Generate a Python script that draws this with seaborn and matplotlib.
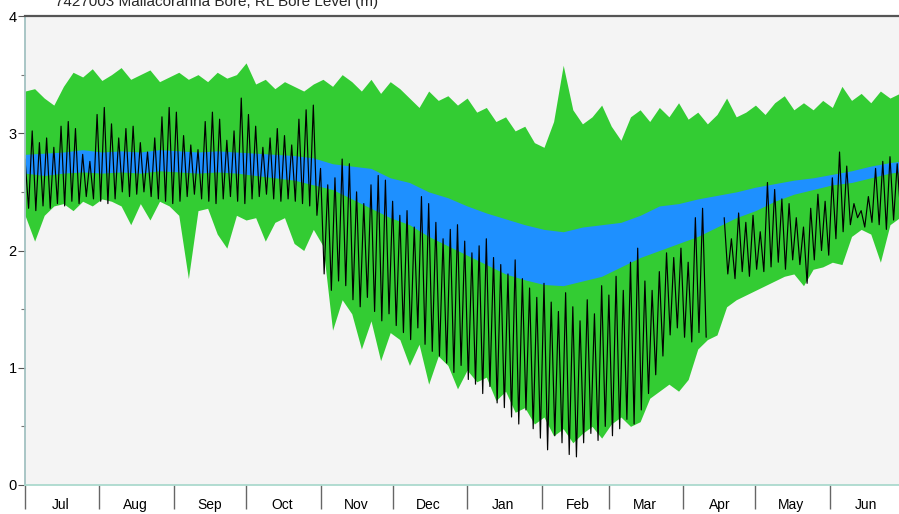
import numpy as np
import pandas as pd
import seaborn as sns
import matplotlib.pyplot as plt
import matplotlib.dates as mdates
from matplotlib.ticker import MultipleLocator, NullFormatter

title = "7427003 Mallacoranna Bore, RL Bore Level (m)"
start = "2018-07-01"

# outer envelope (green), one value every 4 days
green_hi = [3.36, 3.38, 3.30, 3.24, 3.40, 3.52, 3.48, 3.55, 3.45, 3.50, 3.56, 3.46,
            3.50, 3.54, 3.44, 3.48, 3.52, 3.46, 3.50, 3.44, 3.52, 3.47, 3.50, 3.60,
            3.42, 3.46, 3.38, 3.44, 3.40, 3.36, 3.42, 3.46, 3.40, 3.50, 3.44, 3.36,
            3.46, 3.34, 3.44, 3.38, 3.30, 3.22, 3.36, 3.28, 3.32, 3.24, 3.30, 3.18,
            3.22, 3.10, 3.14, 3.02, 3.06, 2.92, 2.88, 3.10, 3.58, 3.20, 3.08, 3.14,
            3.24, 3.06, 2.94, 3.14, 3.20, 3.10, 3.22, 3.14, 3.26, 3.12, 3.18, 3.08,
            3.16, 3.30, 3.14, 3.18, 3.24, 3.16, 3.26, 3.32, 3.20, 3.26, 3.20, 3.28,
            3.22, 3.40, 3.28, 3.34, 3.26, 3.36, 3.30, 3.34]
green_lo = [2.30, 2.08, 2.30, 2.38, 2.40, 2.34, 2.42, 2.38, 2.44, 2.42, 2.38, 2.22,
            2.40, 2.26, 2.42, 2.38, 2.30, 1.76, 2.34, 2.36, 2.14, 2.02, 2.30, 2.26,
            2.28, 2.08, 2.24, 2.28, 2.06, 2.00, 2.18, 2.04, 1.32, 1.58, 1.46, 1.16,
            1.40, 1.06, 1.30, 1.24, 1.02, 1.20, 0.86, 1.10, 1.02, 0.82, 0.98, 0.88,
            0.92, 0.72, 0.80, 0.62, 0.66, 0.52, 0.58, 0.42, 0.48, 0.36, 0.44, 0.50,
            0.40, 0.52, 0.58, 0.50, 0.54, 0.74, 0.80, 0.86, 0.80, 0.90, 1.16, 1.24,
            1.28, 1.52, 1.58, 1.62, 1.66, 1.70, 1.74, 1.78, 1.80, 1.70, 1.84, 1.86,
            1.90, 1.88, 2.12, 2.18, 2.14, 1.90, 2.22, 2.28]

# inner band (blue), one value every 8 days
blue_hi = [2.82, 2.83, 2.84, 2.86, 2.84, 2.85, 2.84, 2.86, 2.85, 2.84, 2.85, 2.84,
           2.83, 2.82, 2.81, 2.79, 2.74, 2.72, 2.70, 2.62, 2.58, 2.50, 2.45, 2.38,
           2.32, 2.27, 2.22, 2.18, 2.16, 2.20, 2.22, 2.24, 2.30, 2.38, 2.40, 2.44,
           2.47, 2.50, 2.54, 2.57, 2.60, 2.62, 2.65, 2.68, 2.72, 2.75, 2.77]
blue_lo = [2.66, 2.64, 2.66, 2.67, 2.66, 2.67, 2.66, 2.68, 2.67, 2.66, 2.67, 2.66,
           2.64, 2.62, 2.60, 2.56, 2.52, 2.44, 2.36, 2.28, 2.22, 2.12, 2.04, 1.96,
           1.88, 1.80, 1.75, 1.71, 1.70, 1.74, 1.78, 1.86, 1.94, 2.00, 2.06, 2.12,
           2.20, 2.28, 2.34, 2.42, 2.48, 2.52, 2.56, 2.58, 2.62, 2.66, 2.68]

# observed level: daily highs and lows, one pair every 3 days (nan = no record)
obs_peak = [2.78, 3.02, 2.92, 2.96, 2.88, 3.06, 3.10, 3.04, 2.82, 2.76, 3.16, 3.22,
            3.08, 2.96, 3.04, 3.06, 2.92, 2.84, 2.96, 3.14, 3.22, 3.18, 2.98, 2.90,
            2.86, 3.10, 3.18, 3.12, 2.94, 3.02, 3.30, 3.16, 3.06, 2.88, 2.96, 3.04,
            2.98, 2.90, 3.12, 3.20, 3.24, 2.70, 2.56, 2.62, 2.78, 2.74, 2.50, 2.40,
            2.56, 2.64, 2.60, 2.42, 2.30, 2.34, 2.20, 2.46, 2.40, 2.24, 2.10, 2.18,
            2.22, 2.08, 1.98, 2.04, 2.10, 1.94, 1.88, 1.80, 1.92, 1.76, 1.68, 1.60,
            1.72, 1.56, 1.48, 1.64, 1.52, 1.40, 1.58, 1.46, 1.70, 1.62, 1.78, 1.66,
            1.90, 2.02, 1.74, 1.66, 1.82, 1.98, 1.94, 2.02, 1.90, 2.28, 2.36, np.nan,
            np.nan, 2.28, 2.10, 2.32, 2.24, 2.30, 2.16, 2.58, 2.52, 2.44, 2.40, 2.28,
            2.20, 2.36, 2.48, 2.42, 2.62, 2.84, 2.72, 2.40, 2.34, 2.46, 2.70, 2.76,
            2.80, 2.74]
obs_trough = [2.36, 2.34, 2.38, 2.36, 2.40, 2.38, 2.42, 2.40, 2.46, 2.44, 2.42, 2.40,
              2.44, 2.50, 2.46, 2.48, 2.50, 2.46, 2.44, 2.42, 2.40, 2.42, 2.46, 2.48,
              2.44, 2.42, 2.40, 2.44, 2.46, 2.42, 2.40, 2.44, 2.46, 2.48, 2.44, 2.42,
              2.44, 2.42, 2.40, 2.38, 2.30, 1.80, 1.66, 1.74, 1.70, 1.58, 1.52, 1.60,
              1.48, 1.40, 1.46, 1.36, 1.30, 1.24, 1.34, 1.20, 1.14, 1.10, 1.04, 0.96,
              1.02, 0.90, 0.86, 0.78, 0.84, 0.70, 0.66, 0.58, 0.52, 0.64, 0.48, 0.40,
              0.30, 0.42, 0.36, 0.26, 0.24, 0.36, 0.44, 0.38, 0.50, 0.42, 0.48, 0.56,
              0.52, 0.64, 0.78, 0.94, 1.10, 1.28, 1.34, 1.26, 1.22, 1.30, 1.26, np.nan,
              np.nan, 1.80, 1.76, 1.82, 1.78, 1.84, 1.82, 1.86, 1.90, 1.84, 1.92, 1.88,
              1.72, 1.92, 2.00, 1.96, 2.10, 2.16, 2.22, 2.28, 2.20, 2.24, 2.22, 2.18,
              2.26, 2.30]

month_labels = ["Jul", "Aug", "Sep", "Oct", "Nov", "Dec",
                "Jan", "Feb", "Mar", "Apr", "May", "Jun"]

band4 = pd.date_range(start, periods=len(green_hi), freq="4D")
band8 = pd.date_range(start, periods=len(blue_hi), freq="8D")
peak_t = pd.date_range(start, periods=len(obs_peak), freq="3D")

obs = pd.DataFrame({
    "date": np.concatenate([peak_t.values, (peak_t + pd.Timedelta(hours=36)).values]),
    "level": obs_peak + obs_trough,
}).sort_values("date", kind="stable").reset_index(drop=True)
obs["segment"] = obs["level"].isna().cumsum()
obs = obs.dropna()

sns.set_theme(style="white")
plt.rcParams["font.family"] = ["Liberation Sans", "DejaVu Sans"]

fig = plt.figure(figsize=(8.99, 5.14), dpi=100)
ax = fig.add_axes([25 / 899, 29 / 514, 877 / 899, 469 / 514])
ax.set_facecolor("#f4f4f4")

ax.fill_between(band4, green_lo, green_hi, color="#33cc33", lw=0)
ax.fill_between(band8, blue_lo, blue_hi, color="#1e90ff", lw=0)
sns.lineplot(data=obs, x="date", y="level", units="segment", estimator=None,
             sort=False, color="black", lw=0.85, ax=ax)

ax.set(xlabel="", ylabel="")
ax.set_ylim(0, 4)
ax.set_xlim(pd.Timestamp("2018-07-01"), pd.Timestamp("2019-07-01"))

ax.yaxis.set_major_locator(MultipleLocator(1))
ax.yaxis.set_minor_locator(MultipleLocator(0.5))
ax.tick_params(axis="y", which="major", left=True, length=5, width=0.8,
               color="#555555", labelsize=10.5, pad=1, labelcolor="black")
ax.tick_params(axis="y", which="minor", left=True, length=3, width=0.8, color="#777777")

ax.xaxis.set_major_locator(mdates.MonthLocator())
ax.xaxis.set_major_formatter(NullFormatter())
ax.xaxis.set_minor_locator(mdates.MonthLocator(bymonthday=16))
ax.xaxis.set_minor_formatter(
    plt.FuncFormatter(lambda v, p: month_labels[(mdates.num2date(v).month - 7) % 12]))
ax.tick_params(axis="x", which="major", bottom=True, length=17, width=1,
               color="#666666", direction="out")
ax.tick_params(axis="x", which="minor", bottom=True, length=0, pad=17.5,
               labelsize=10, labelcolor="black")

ax.spines["top"].set_color("#555555")
ax.spines["top"].set_linewidth(1.6)
ax.spines["left"].set_color("#9fbfbf")
ax.spines["bottom"].set_color("#a8d8cc")
ax.spines["right"].set_visible(False)
ax.grid(False)

fig.text(55 / 899, 1 - 6 / 514, title, fontsize=11, va="baseline", ha="left")

# keep all month names on one baseline
fig.canvas.draw()
for lbl in ax.xaxis.get_minorticklabels():
    lbl.set_va("baseline")

fig.savefig("out.png", dpi=100)
